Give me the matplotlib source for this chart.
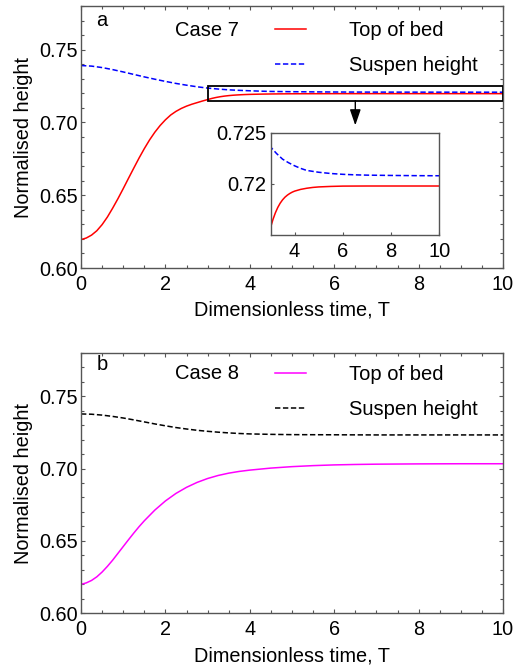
import matplotlib
matplotlib.use("Agg")
import matplotlib.pyplot as plt
from matplotlib.ticker import MultipleLocator, FormatStrFormatter
from matplotlib.patches import Rectangle

plt.rcParams['font.family'] = ['Liberation Sans', 'DejaVu Sans']

# ---------------- data ----------------
# Panel a (Case 7)
t_a_bed = [0, 0.125, 0.25, 0.375, 0.5, 0.625, 0.75, 0.875, 1.0, 1.125, 1.25, 1.375,
           1.5, 1.625, 1.75, 1.875, 2.0, 2.125, 2.25, 2.375, 2.5, 2.625, 2.75, 2.875,
           3.0, 3.1, 3.2, 3.3, 3.4, 3.5, 3.6, 3.7, 3.8, 3.9, 4.0, 4.25, 4.5, 4.75,
           5.0, 5.5, 6.0, 7.0, 8.0, 9.0, 10.0]
bed_a = [0.6195, 0.6206, 0.6226, 0.6256, 0.6298, 0.6350, 0.6411, 0.6476, 0.6545,
         0.6616, 0.6686, 0.6755, 0.6820, 0.6880, 0.6933, 0.6979, 0.7018, 0.7051,
         0.7076, 0.7096, 0.7112, 0.7125, 0.7136, 0.7147, 0.7157, 0.71650, 0.71715,
         0.71768, 0.71810, 0.71843, 0.71869, 0.71889, 0.71905, 0.71918, 0.71928,
         0.71945, 0.71956, 0.71964, 0.71969, 0.71974, 0.71977, 0.71978, 0.71978,
         0.71978, 0.71978]
t_a_sus = [0, 0.25, 0.5, 0.75, 1.0, 1.25, 1.5, 1.75, 2.0, 2.25, 2.5, 2.75, 3.0,
           3.25, 3.5, 3.75, 4.0, 4.25, 4.5, 5.0, 5.5, 6.0, 6.5, 7.0, 8.0, 9.0, 10.0]
sus_a = [0.7391, 0.7387, 0.7377, 0.7363, 0.7347, 0.7330, 0.7313, 0.7297, 0.7282,
         0.7268, 0.7256, 0.7245, 0.7236, 0.72295, 0.7224, 0.72205, 0.72175, 0.7215,
         0.7213, 0.72112, 0.72100, 0.72092, 0.72087, 0.72084, 0.72081, 0.72079,
         0.72078]

# Panel b (Case 8)
t_b_bed = [0, 0.125, 0.25, 0.375, 0.5, 0.625, 0.75, 0.875, 1.0, 1.125, 1.25, 1.375,
           1.5, 1.75, 2.0, 2.25, 2.5, 2.75, 3.0, 3.25, 3.5, 3.75, 4.0, 4.5, 5.0,
           5.5, 6.0, 6.5, 7.0, 8.0, 9.0, 10.0]
bed_b = [0.6200, 0.6210, 0.6227, 0.6252, 0.6285, 0.6324, 0.6367, 0.6414, 0.6461,
         0.6508, 0.6554, 0.6598, 0.6639, 0.6713, 0.6776, 0.6828, 0.6870, 0.6904,
         0.6931, 0.6952, 0.6968, 0.6980, 0.6989, 0.7003, 0.7013, 0.7020, 0.7025,
         0.7028, 0.7030, 0.7032, 0.7033, 0.7033]
t_b_sus = [0, 0.25, 0.5, 0.75, 1.0, 1.25, 1.5, 1.75, 2.0, 2.25, 2.5, 2.75, 3.0,
           3.25, 3.5, 3.75, 4.0, 4.5, 5.0, 6.0, 7.0, 8.0, 10.0]
sus_b = [0.7377, 0.7375, 0.7369, 0.7360, 0.7349, 0.7336, 0.7322, 0.7308, 0.7295,
         0.7283, 0.7273, 0.7264, 0.7257, 0.7251, 0.7246, 0.7242, 0.7239, 0.7236,
         0.7234, 0.7233, 0.7232, 0.7232, 0.7232]

labels = ["Top of bed", "Suspen height"]
cases = ["Case 7", "Case 8"]
panel_letters = ["a", "b"]
xticks = [0, 2, 4, 6, 8, 10]
yticks = [0.60, 0.65, 0.70, 0.75]
inset_xticks = [4, 6, 8, 10]
inset_yticks = [0.72, 0.725]
inset_yticklabels = ["0.72", "0.725"]

# ---------------- figure ----------------
W, H = 516, 668
fig = plt.figure(figsize=(W / 100, H / 100), dpi=100)


def px_axes(left, top, right, bottom):
    return fig.add_axes([left / W, (H - bottom) / H, (right - left) / W, (bottom - top) / H])


frame_col = '#555555'
FS_TICK = 14.3
FS_LAB = 14.3
FS_LEG = 14.5


def style(ax):
    for s in ax.spines.values():
        s.set_color(frame_col)
        s.set_linewidth(1.0)
    ax.set_xlim(0, 10)
    ax.set_ylim(0.6, 0.78)
    ax.set_xticks(xticks)
    ax.set_yticks(yticks)
    ax.xaxis.set_minor_locator(MultipleLocator(0.5))
    ax.yaxis.set_minor_locator(MultipleLocator(0.01))
    ax.yaxis.set_major_formatter(FormatStrFormatter('%.2f'))
    ax.tick_params(which='both', direction='in', top=True, right=True, color=frame_col,
                   labelsize=FS_TICK, width=0.8)
    ax.tick_params(which='major', length=3.2)
    ax.tick_params(which='minor', length=2.0)
    ax.tick_params(axis='x', pad=5)
    ax.tick_params(axis='y', pad=2.5)
    ax.set_xlabel("Dimensionless time, T", fontsize=FS_LAB, labelpad=5)
    ax.set_ylabel("Normalised height", fontsize=FS_LAB, labelpad=4)


dash = (0, (3.5, 1.7))


def add_legend(ax, top_off_px):
    h = ax.get_position().height * H
    ax.legend(loc='upper left', bbox_to_anchor=((275 - 81) / 422, 1.0 - top_off_px / h),
              frameon=False, fontsize=FS_LEG, handlelength=1.53, handletextpad=2.12,
              labelspacing=0.80, borderaxespad=0, borderpad=0)


# Panel a
ax1 = px_axes(81, 6, 503, 268)
style(ax1)
ax1.plot(t_a_bed, bed_a, color='#ff0000', lw=1.1, label=labels[0])
ax1.plot(t_a_sus, sus_a, color='#0000ff', lw=1.1, ls=dash, label=labels[1])
add_legend(ax1, 14.9)
ax1.annotate(cases[0], xy=(0, 1), xycoords='axes fraction', xytext=(94, -24),
             textcoords='offset pixels', fontsize=FS_LEG, va='center', ha='left')
ax1.annotate(panel_letters[0], xy=(0, 1), xycoords='axes fraction', xytext=(21, -14),
             textcoords='offset pixels', fontsize=FS_LEG, va='center', ha='center')

# zoom rectangle and arrow
ax1.add_patch(Rectangle((3, 0.715), 7, 0.01, fill=False, ec='black', lw=1.3, zorder=5))
ax1.annotate('', xy=(6.5, 0.698), xytext=(6.5, 0.715),
             arrowprops=dict(arrowstyle='-|>,head_length=0.96,head_width=0.33', color='black',
                             lw=1.0, shrinkA=0, shrinkB=0))

# inset
axi = px_axes(270.5, 132.5, 439.3, 235)
for s in axi.spines.values():
    s.set_color(frame_col)
    s.set_linewidth(1.0)
axi.plot(t_a_bed, bed_a, color='#ff0000', lw=1.1)
axi.plot(t_a_sus, sus_a, color='#0000ff', lw=1.1, ls=dash)
axi.set_xlim(3, 10)
axi.set_ylim(0.715, 0.725)
axi.set_xticks(inset_xticks)
axi.set_yticks(inset_yticks, labels=inset_yticklabels)
axi.tick_params(direction='in', length=2, color=frame_col, labelsize=FS_LEG, pad=3)
axi.tick_params(axis='x', pad=5)

# Panel b
ax2 = px_axes(81, 352.7, 503, 613.3)
style(ax2)
ax2.plot(t_b_bed, bed_b, color='#ff00ff', lw=1.1, label=labels[0])
ax2.plot(t_b_sus, sus_b, color='black', lw=1.1, ls=dash, label=labels[1])
add_legend(ax2, 12.2)
ax2.annotate(cases[1], xy=(0, 1), xycoords='axes fraction', xytext=(94, -20.6),
             textcoords='offset pixels', fontsize=FS_LEG, va='center', ha='left')
ax2.annotate(panel_letters[1], xy=(0, 1), xycoords='axes fraction', xytext=(21, -12),
             textcoords='offset pixels', fontsize=FS_LEG, va='center', ha='center')

fig.savefig("out.png", dpi=100)
